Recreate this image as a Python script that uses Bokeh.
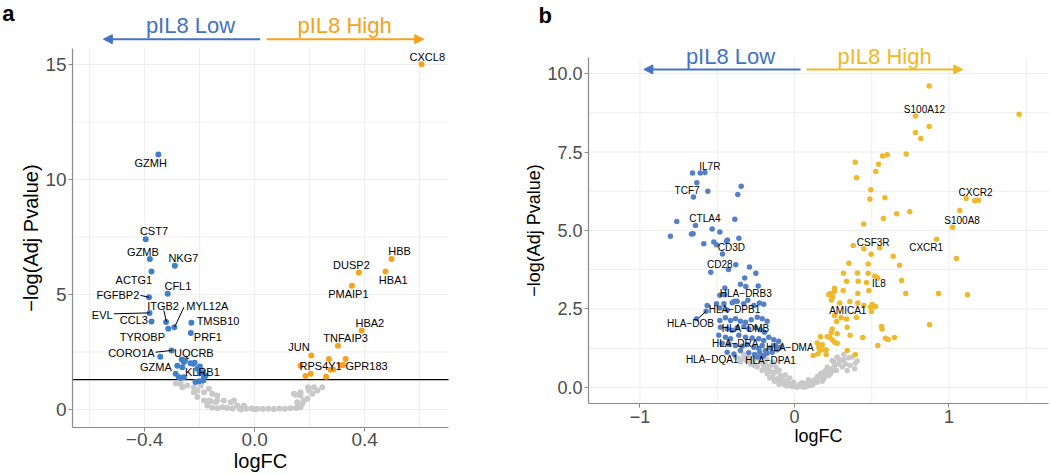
from bokeh.plotting import figure
from bokeh.models import Range1d, FixedTicker, Arrow, NormalHead
from bokeh.layouts import row
from bokeh.embed import file_html
from bokeh.resources import INLINE
from bokeh.core.properties import value

FONT = "Liberation Sans"

# ---------------- Panel a data ----------------
a_low = [(-0.350, 11.09), (-0.396, 7.40), (-0.381, 6.54), (-0.290, 6.25), (-0.375, 6.00),
         (-0.316, 5.03), (-0.384, 4.88), (-0.382, 4.20), (-0.375, 3.83), (-0.322, 3.80),
         (-0.314, 3.51), (-0.292, 3.57), (-0.230, 3.77), (-0.232, 3.33), (-0.302, 2.56),
         (-0.343, 2.29), (-0.265, 2.17), (-0.257, 2.06), (-0.253, 2.13), (-0.233, 2.01),
         (-0.223, 1.99), (-0.218, 2.03), (-0.208, 1.77), (-0.199, 1.87), (-0.281, 1.90),
         (-0.263, 1.84), (-0.287, 1.55), (-0.275, 1.40), (-0.257, 1.40), (-0.269, 1.38),
         (-0.215, 1.19), (-0.202, 1.23), (-0.187, 1.26), (-0.178, 1.48), (-0.190, 1.62),
         (-0.199, 1.58), (-0.184, 1.40)]
a_high = [(0.607, 15.01), (0.498, 6.54), (0.476, 6.00), (0.379, 5.96), (0.354, 5.38),
          (0.389, 3.43), (0.303, 2.77), (0.206, 2.35), (0.270, 2.19), (0.331, 2.19),
          (0.167, 1.90), (0.313, 1.91), (0.322, 1.93), (0.276, 1.73), (0.286, 1.74),
          (0.204, 1.55), (0.185, 1.46), (0.260, 1.42)]
a_ns = [(-0.287, 1.13), (-0.263, 0.97), (-0.245, 1.04), (-0.269, 1.12), (-0.221, 0.97),
        (-0.196, 1.04), (-0.221, 0.75), (-0.208, 0.83), (-0.208, 0.54), (-0.184, 0.75),
        (-0.166, 0.90), (-0.154, 0.68), (-0.136, 0.61), (-0.184, 0.39), (-0.160, 0.36),
        (-0.136, 0.39), (-0.112, 0.39), (-0.087, 0.32), (-0.075, 0.39), (-0.166, 0.39),
        (-0.142, 0.32), (-0.172, 0.17), (-0.117, 0.10), (-0.063, 0.17), (-0.039, 0.17),
        (-0.155, 0.08), (-0.135, 0.05), (-0.100, 0.06), (-0.080, 0.04), (-0.055, 0.05),
        (-0.030, 0.03), (-0.010, 0.04), (0.010, 0.03), (0.030, 0.02), (0.050, 0.03),
        (0.070, 0.02), (0.090, 0.04), (0.110, 0.03), (0.130, 0.05), (0.150, 0.06),
        (0.161, 0.10), (0.173, 0.25), (0.155, 0.32), (0.167, 0.10), (0.179, 0.39),
        (0.192, 0.47), (0.143, 0.68), (0.167, 0.61), (0.149, 0.64), (0.167, 0.75),
        (0.197, 0.83), (0.210, 0.68), (0.228, 0.83), (0.246, 0.97), (0.194, 0.97),
        (0.216, 0.97), (-0.050, 0.00), (0.000, 0.01)]
a_genes = ["CXCL8", "GZMH", "CST7", "GZMB", "NKG7", "ACTG1", "CFL1", "FGFBP2", "ITGB2",
           "MYL12A", "EVL", "CCL3", "TMSB10", "TYROBP", "PRF1", "CORO1A", "UQCRB", "GZMA",
           "KLRB1", "HBB", "DUSP2", "HBA1", "PMAIP1", "HBA2", "TNFAIP3", "JUN", "RPS4Y1",
           "GPR183"]
a_gene_x = [0.628, -0.378, -0.366, -0.406, -0.259, -0.439, -0.279, -0.497, -0.333,
            -0.172, -0.554, -0.439, -0.133, -0.408, -0.170, -0.448, -0.221, -0.359,
            -0.190, 0.527, 0.352, 0.504, 0.341, 0.419, 0.331, 0.161, 0.240, 0.407]
a_gene_y = [15.32, 10.72, 7.75, 6.84, 6.59, 5.64, 5.35, 4.96, 4.52,
            4.48, 4.09, 3.87, 3.83, 3.17, 3.17, 2.47, 2.47, 1.84,
            1.62, 6.87, 6.27, 5.61, 5.03, 3.77, 3.10, 2.71, 1.87, 1.87]
a_link_x0 = [-0.415, -0.512, -0.330, -0.257, -0.360]
a_link_y0 = [4.96, 4.16, 4.30, 4.45, 2.49]
a_link_x1 = [-0.384, -0.382, -0.320, -0.291, -0.299]
a_link_y1 = [4.88, 4.20, 3.80, 3.58, 2.57]
a_xticks = [-0.4, 0.0, 0.4]
a_xtick_labels = ["\u22120.4", "0.0", "0.4"]
a_xminor = [-0.6, -0.2, 0.2, 0.6]
a_yticks = [0, 5, 10, 15]
a_ytick_labels = ["0", "5", "10", "15"]
a_yminor = [2.5, 7.5, 12.5]
a_cutoff = 1.301
a_xlim = (-0.662, 0.705)          # panel limits
a_ylim = (-0.78, 15.7)
a_view_x = (-0.924, 0.985)        # whole canvas, including margins
a_view_y = (-2.826, 17.78)

# ---------------- Panel b data ----------------
b_low = [(-0.660, 6.83), (-0.610, 6.83), (-0.580, 6.85), (-0.632, 6.52), (-0.561, 6.25),
         (-0.654, 6.07), (-0.345, 6.41), (-0.367, 6.15), (-0.762, 5.29), (-0.641, 5.16),
         (-0.386, 5.36), (-0.533, 5.05), (-0.483, 4.95), (-0.803, 4.82), (-0.667, 4.89),
         (-0.656, 4.90), (-0.587, 4.58), (-0.522, 4.63), (-0.505, 4.55), (-0.440, 4.66),
         (-0.434, 4.70), (-0.360, 4.75), (-0.466, 4.25), (-0.380, 3.91), (-0.427, 3.76),
         (-0.542, 3.67), (-0.291, 3.84), (-0.250, 3.64), (-0.322, 3.49), (-0.350, 3.29),
         (-0.315, 3.22), (-0.235, 3.23), (-0.451, 3.17), (-0.483, 2.94), (-0.453, 2.95),
         (-0.388, 2.75), (-0.371, 2.75), (-0.199, 2.65), (-0.565, 2.61), (-0.483, 2.53),
         (-0.436, 2.47), (-0.572, 2.43), (-0.634, 2.19), (-0.505, 2.67), (-0.457, 2.67),
         (-0.403, 2.70), (-0.328, 2.67), (-0.263, 2.61), (-0.227, 2.69), (-0.302, 2.78),
         (-0.483, 2.13), (-0.447, 2.22), (-0.414, 2.13), (-0.382, 2.19), (-0.350, 2.11),
         (-0.317, 2.08), (-0.280, 2.16), (-0.241, 2.24), (-0.209, 2.19), (-0.177, 2.11),
         (-0.479, 1.92), (-0.436, 1.87), (-0.403, 1.82), (-0.371, 1.90), (-0.328, 1.94),
         (-0.296, 1.87), (-0.252, 1.90), (-0.220, 1.84), (-0.194, 1.76), (-0.490, 1.66),
         (-0.447, 1.60), (-0.414, 1.55), (-0.360, 1.66), (-0.317, 1.60), (-0.274, 1.58),
         (-0.231, 1.55), (-0.199, 1.50), (-0.166, 1.60), (-0.134, 1.52), (-0.102, 1.47),
         (-0.468, 1.41), (-0.425, 1.37), (-0.382, 1.34), (-0.339, 1.31), (-0.306, 1.37),
         (-0.263, 1.28), (-0.231, 1.23), (-0.209, 1.34), (-0.188, 1.18), (-0.155, 1.26),
         (-0.123, 1.34), (-0.091, 1.28), (-0.436, 1.12), (-0.392, 1.07), (-0.350, 1.18),
         (-0.296, 1.11), (-0.259, 1.05), (-0.225, 1.12), (-0.199, 1.02), (-0.177, 1.09),
         (-0.144, 1.12), (-0.112, 1.20), (-0.241, 0.97), (-0.209, 0.99)]
b_high = [(0.872, 9.60), (0.783, 8.65), (1.454, 8.70), (0.872, 8.31), (0.783, 8.12),
          (0.818, 7.93), (0.723, 7.44), (0.570, 7.37), (0.600, 7.41), (0.393, 7.17),
          (0.544, 7.11), (0.526, 6.88), (0.401, 6.68), (0.494, 6.30), (0.488, 6.00),
          (0.585, 6.04), (1.111, 6.02), (1.167, 5.95), (1.191, 5.96), (1.070, 5.64),
          (0.746, 5.60), (0.662, 5.53), (0.576, 5.38), (0.447, 5.21), (1.023, 5.10),
          (0.919, 4.72), (0.380, 4.52), (0.449, 4.42), (0.552, 4.45), (0.496, 4.24),
          (0.639, 4.18), (1.048, 4.11), (0.680, 3.89), (0.477, 3.93), (0.352, 3.96),
          (0.317, 3.64), (0.408, 3.65), (0.477, 3.64), (0.520, 3.54), (0.539, 3.49),
          (0.693, 3.41), (0.337, 3.38), (0.412, 3.38), (0.466, 3.34), (0.481, 3.09),
          (0.410, 2.99), (0.720, 2.99), (0.932, 2.99), (1.120, 2.95), (0.259, 3.16),
          (0.231, 2.99), (0.222, 2.95), (0.259, 3.06), (0.315, 3.09), (0.248, 2.88),
          (0.239, 2.79), (0.293, 2.69), (0.358, 2.74), (0.410, 2.69), (0.449, 2.61),
          (0.503, 2.64), (0.524, 2.58), (0.492, 2.56), (0.498, 2.42), (0.401, 2.23),
          (0.337, 2.18), (0.302, 2.22), (0.272, 2.10), (0.259, 2.29), (0.341, 1.92),
          (0.244, 1.86), (0.238, 1.75), (0.276, 1.71), (0.212, 1.62), (0.228, 1.60),
          (0.360, 1.66), (0.442, 1.59), (0.244, 1.52), (0.259, 1.44), (0.276, 1.41),
          (0.168, 1.62), (0.147, 1.42), (0.180, 1.36), (0.157, 1.28), (0.164, 1.18),
          (0.186, 1.20), (0.205, 1.20), (0.121, 1.02), (0.151, 1.07), (0.205, 1.05),
          (0.341, 1.18), (0.393, 1.05), (0.539, 1.34), (0.563, 1.94), (0.567, 1.86),
          (0.589, 1.57), (0.606, 1.53), (0.647, 1.59), (0.874, 2.00)]
b_ns = [(-0.382, 0.97), (-0.350, 0.81), (-0.328, 0.91), (-0.285, 0.81), (-0.274, 0.91),
        (-0.285, 0.75), (-0.241, 0.65), (-0.220, 0.81), (-0.209, 0.54), (-0.199, 0.60),
        (-0.177, 0.44), (-0.166, 0.65), (-0.150, 0.50), (-0.144, 0.33), (-0.123, 0.49),
        (-0.112, 0.22), (-0.112, 0.28), (-0.091, 0.38), (-0.069, 0.12), (-0.069, 0.17),
        (-0.047, 0.22), (-0.026, 0.06), (-0.026, 0.10), (-0.005, 0.17), (0.017, 0.01),
        (0.017, 0.03), (0.039, 0.12), (0.060, 0.01), (0.060, 0.06), (0.082, 0.14),
        (0.104, 0.06), (0.104, 0.14), (0.125, 0.22), (0.136, 0.22), (0.147, 0.17),
        (0.168, 0.44), (0.168, 0.33), (0.190, 0.28), (0.201, 0.54), (0.212, 0.65),
        (0.222, 0.38), (0.233, 0.44), (0.244, 0.86), (0.254, 0.54), (0.254, 0.81),
        (0.276, 0.96), (0.287, 0.75), (0.287, 0.91), (0.309, 0.65), (0.319, 1.05),
        (0.341, 0.54), (0.374, 0.97), (0.406, 0.84), (-0.300, 0.95), (-0.260, 0.70),
        (-0.230, 0.90), (-0.190, 0.75), (-0.160, 0.30), (-0.130, 0.20), (-0.100, 0.10),
        (-0.080, 0.28), (-0.050, 0.05), (-0.040, 0.12), (0.000, 0.05), (0.030, 0.08),
        (0.050, 0.15), (0.080, 0.04), (0.090, 0.25), (0.120, 0.10), (0.150, 0.35),
        (0.180, 0.20), (0.200, 0.40), (0.230, 0.60), (0.270, 0.55), (0.300, 0.85),
        (0.330, 0.75), (0.360, 0.70), (0.390, 0.60), (-0.330, 1.05), (-0.250, 1.00),
        (-0.220, 0.95), (-0.180, 0.90), (-0.140, 0.80), (-0.120, 0.65), (-0.100, 0.55),
        (-0.060, 0.40), (-0.030, 0.30), (-0.360, 0.92), (-0.310, 0.86), (-0.265, 0.84),
        (-0.200, 0.70), (-0.175, 0.58), (-0.155, 0.70), (-0.135, 0.45), (-0.085, 0.18),
        (-0.060, 0.08), (-0.015, 0.02), (0.040, 0.03), (0.070, 0.10), (0.110, 0.18),
        (0.140, 0.28), (0.185, 0.48), (0.215, 0.50), (0.260, 0.70), (0.320, 0.88),
        (0.350, 0.95), (0.395, 0.78)]
b_genes = ["IL7R", "TCF7", "CTLA4", "S100A12", "CXCR2", "S100A8", "CSF3R", "CXCR1", "CD3D",
           "CD28", "IL8", "HLA\u2212DRB3", "HLA\u2212DPB1", "AMICA1", "HLA\u2212DOB",
           "HLA\u2212DMB", "HLA\u2212DRA", "HLA\u2212DMA", "HLA\u2212DQA1", "HLA\u2212DPA1"]
b_gene_x = [-0.548, -0.695, -0.580, 0.841, 1.172, 1.085, 0.509, 0.852, -0.408,
            -0.483, 0.546, -0.315, -0.388, 0.345, -0.673, -0.317, -0.384, -0.030, -0.533, -0.155]
b_gene_y = [7.05, 6.27, 5.37, 8.86, 6.21, 5.32, 4.63, 4.47, 4.47,
            3.91, 3.30, 3.00, 2.48, 2.45, 2.05, 1.89, 1.39, 1.28, 0.88, 0.86]
b_link_x0 = [-0.619]
b_link_y0 = [2.22]
b_link_x1 = [-0.572]
b_link_y1 = [2.43]
b_xticks = [-1, 0, 1]
b_xtick_labels = ["\u22121", "0", "1"]
b_xminor = [-0.5, 0.5, 1.5]
b_yticks = [0, 2.5, 5, 7.5, 10]
b_ytick_labels = ["0.0", "2.5", "5.0", "7.5", "10.0"]
b_yminor = [1.25, 3.75, 6.25, 8.75]
b_xlim = (-1.333, 1.645)
b_ylim = (-0.51, 10.5)
b_view_x = (-1.741, 1.657)
b_view_y = (-2.771, 12.325)

A_BLUE, A_ORANGE = "#3F7FCB", "#F7A21B"
B_BLUE, B_YELLOW = "#5580C8", "#F0B92B"
GREY = "#C9C9C9"
ARROW_BLUE = "#4472C4"
AXIS_GREY = "#8A8A8A"


def unzip(pts):
    return [q[0] for q in pts], [q[1] for q in pts]


def make_panel(width, view_x, view_y, xlim, ylim, xt, xtl, xmin, yt, ytl, ymin, tick_fs, lab_fs):
    p = figure(width=width, height=474, output_backend="svg", toolbar_location=None,
               x_range=Range1d(*view_x), y_range=Range1d(*view_y), min_border=0,
               title=None, x_axis_label="logFC", y_axis_label="\u2212log(Adj Pvalue)")
    p.outline_line_color = None
    p.xgrid.visible = False
    p.ygrid.visible = False
    # grid lines restricted to the panel area
    gx = list(xt) + list(xmin)
    p.segment(gx, [ylim[0]] * len(gx), gx, [ylim[1]] * len(gx),
              line_color="#EEEEEE", line_width=1, level="underlay")
    gy = list(yt) + list(ymin)
    p.segment([xlim[0]] * len(gy), gy, [xlim[1]] * len(gy), gy,
              line_color="#EEEEEE", line_width=1, level="underlay")
    p.xaxis.ticker = FixedTicker(ticks=xt)
    p.yaxis.ticker = FixedTicker(ticks=yt)
    p.xaxis.major_label_overrides = dict(zip(xt, xtl))
    p.yaxis.major_label_overrides = dict(zip(yt, ytl))
    p.xaxis.fixed_location = ylim[0]
    p.yaxis.fixed_location = xlim[0]
    p.xaxis.bounds = xlim
    p.yaxis.bounds = ylim
    for ax in (p.xaxis[0], p.yaxis[0]):
        ax.axis_line_color = AXIS_GREY
        ax.axis_line_width = 1.2
        ax.major_tick_line_color = AXIS_GREY
        ax.major_tick_out = 4
        ax.major_tick_in = 0
        ax.minor_tick_line_color = None
        ax.major_label_text_font = FONT
        ax.major_label_text_font_size = tick_fs
        ax.major_label_text_color = "#4D4D4D"
        ax.axis_label_text_font = FONT
        ax.axis_label_text_font_size = lab_fs
        ax.axis_label_text_font_style = "normal"
        ax.axis_label_text_color = "black"
        ax.major_label_standoff = 2
        ax.axis_label_standoff = 0
    return p


def draw_points(p, ns, low, high, blue, orange, size):
    x, y = unzip(ns)
    p.scatter(x, y, size=size, color=GREY, line_color=None)
    x, y = unzip(low)
    p.scatter(x, y, size=size, color=blue, line_color=None)
    x, y = unzip(high)
    p.scatter(x, y, size=size, color=orange, line_color=None)


def header(p, ylev, ytxt, x_low_start, x_low_end, x_high_start, x_high_end, x_low_txt, x_high_txt,
           high_col, tag, xtag, ytag):
    p.add_layout(Arrow(x_start=x_low_start, y_start=ylev, x_end=x_low_end, y_end=ylev,
                       line_color=ARROW_BLUE, line_width=2,
                       end=NormalHead(size=9, fill_color=ARROW_BLUE, line_color=ARROW_BLUE)))
    p.add_layout(Arrow(x_start=x_high_start, y_start=ylev, x_end=x_high_end, y_end=ylev,
                       line_color=high_col, line_width=2,
                       end=NormalHead(size=9, fill_color=high_col, line_color=high_col)))
    p.text([x_low_txt], [ytxt], text=["pIL8 Low"], text_align="center", text_baseline="middle",
           text_font=value(FONT), text_font_size="22px", text_color=ARROW_BLUE)
    p.text([x_high_txt], [ytxt], text=["pIL8 High"], text_align="center", text_baseline="middle",
           text_font=value(FONT), text_font_size="22px", text_color=high_col)
    p.text([xtag], [ytag], text=[tag], text_align="left", text_baseline="middle",
           text_font=value(FONT), text_font_size="22px", text_font_style="bold", text_color="black")


# ---------------- Panel a ----------------
pa = make_panel(525, a_view_x, a_view_y, a_xlim, a_ylim, a_xticks, a_xtick_labels, a_xminor,
                a_yticks, a_ytick_labels, a_yminor, "19px", "20px")
pa.segment([a_xlim[0]], [a_cutoff], [a_xlim[1]], [a_cutoff], line_color="black", line_width=1.2)
draw_points(pa, a_ns, a_low, a_high, A_BLUE, A_ORANGE, 6)
pa.segment(a_link_x0, a_link_y0, a_link_x1, a_link_y1, line_color="black", line_width=1)
pa.text(a_gene_x, a_gene_y, text=a_genes, text_align="center", text_baseline="middle",
        text_font=value(FONT), text_font_size="11px", text_color="black")
header(pa, 16.1, 16.7, 0.02, -0.55, 0.044, 0.615, -0.233, 0.327, A_ORANGE, "a", -0.918, 17.2)

# ---------------- Panel b ----------------
pb = make_panel(525, b_view_x, b_view_y, b_xlim, b_ylim, b_xticks, b_xtick_labels, b_xminor,
                b_yticks, b_ytick_labels, b_yminor, "18px", "18px")
draw_points(pb, b_ns, b_low, b_high, B_BLUE, B_YELLOW, 5.5)
pb.segment(b_link_x0, b_link_y0, b_link_x1, b_link_y1, line_color="black", line_width=1)
pb.text(b_gene_x, b_gene_y, text=b_genes, text_align="center", text_baseline="middle",
        text_font=value(FONT), text_font_size="10px", text_color="black")
header(pb, 10.13, 10.54, 0.039, -0.975, 0.078, 1.089, -0.414, 0.583, B_YELLOW, "b", -1.657, 11.85)

layout = row(pa, pb)
open("out.html", "w").write(file_html(layout, INLINE))
